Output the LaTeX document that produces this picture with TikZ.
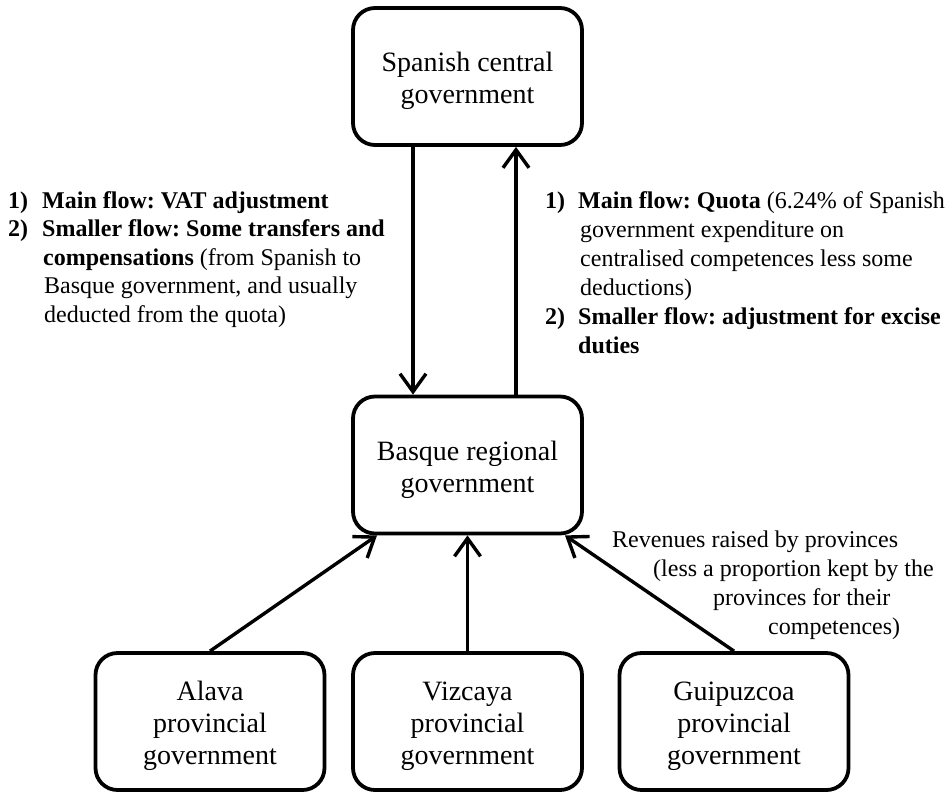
\documentclass[tikz,border=0pt]{standalone}
\usepackage{fontspec}
\setmainfont{Liberation Serif}
\usetikzlibrary{arrows.meta}
\newcommand{\tallstrut}{\rule{0pt}{29pt}}
\frenchspacing
\begin{document}
\frenchspacing
\begin{tikzpicture}[x=1pt,y=-1pt,
  box/.style={draw, line width=3.8pt, rounded corners=22pt, minimum width=229pt,
    minimum height=137pt, align=center, inner sep=0pt, font=\fontsize{28}{32}\selectfont},
  flow/.style={line width=3.4pt, -{Straight Barb[length=18pt,width=26pt]}},
  lbl/.style={inner sep=0pt, anchor=base west, font=\fontsize{24}{28.5}\selectfont\frenchspacing},
  lblr/.style={inner sep=0pt, anchor=base west, font=\fontsize{24}{29}\selectfont\frenchspacing}
]
\useasboundingbox (0,0) rectangle (952,793);
\node[box] (sp) at (467.5,76.5) {\tallstrut Spanish central\\government};
\node[box] (bq) at (467.5,465) {\tallstrut Basque regional\\government};
\node[box] (al) at (210,721.5) {\tallstrut Alava\\provincial\\government};
\node[box] (vz) at (467.5,721.5) {\tallstrut Vizcaya\\provincial\\government};
\node[box] (gp) at (734,721.5) {\tallstrut Guipuzcoa\\provincial\\government};

\draw[flow] ([xshift=-54.5pt]sp.south) -- ([xshift=-54.5pt]bq.north);
\draw[flow] ([xshift=48.5pt]bq.north) -- ([xshift=48.5pt]sp.south);
\draw[flow] (al.north) -- ([xshift=-90.5pt]bq.south);
\draw[flow] (vz.north) -- (bq.south);
\draw[flow] (gp.north) -- ([xshift=97.5pt]bq.south);

\node[lbl] (lf) at (8,208) {\begin{tabular}[t]{@{}l@{}}
\makebox[34pt][l]{\textbf{1)}}\textbf{Main flow: VAT adjustment}\\
\makebox[34pt][l]{\textbf{2)}}\textbf{Smaller flow: Some transfers and}\\
\hspace*{35pt}\textbf{compensations} (from Spanish to\\
\hspace*{36pt}Basque government, and usually\\
\hspace*{36pt}deducted from the quota)
\end{tabular}};

\node[lblr] (rt) at (545,208) {\begin{tabular}[t]{@{}l@{}}
\makebox[33pt][l]{\textbf{1)}}\textbf{Main flow: Quota} (6.24\% of Spanish\\
\hspace*{35pt}government expenditure on\\
\hspace*{35pt}centralised competences less some\\
\hspace*{35pt}deductions)\\
\makebox[33pt][l]{\textbf{2)}}\textbf{Smaller flow: adjustment for excise}\\
\hspace*{33pt}\textbf{duties}
\end{tabular}};

\node[lblr] (rv) at (612,547) {\begin{tabular}[t]{@{}l@{}}
Revenues raised by provinces\\
\hspace*{41pt}(less a proportion kept by the\\
\hspace*{101pt}provinces for their\\
\hspace*{156pt}competences)
\end{tabular}};
\end{tikzpicture}
\end{document}
